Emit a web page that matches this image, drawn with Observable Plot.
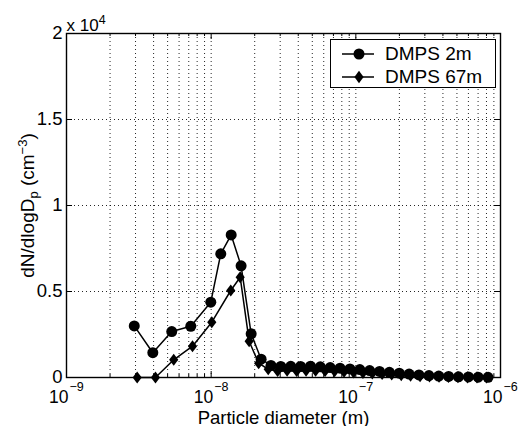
<!DOCTYPE html>
<html><head><meta charset="utf-8">
<script src="https://cdn.jsdelivr.net/npm/d3@7"></script>
<script src="https://cdn.jsdelivr.net/npm/@observablehq/plot@0.6"></script>
<style>
body{margin:0;background:#fff;font-family:"Liberation Sans",Arial,sans-serif;}
#wrap{position:relative;width:518px;height:426px;}
#legend{position:absolute;left:330px;top:39px;width:166px;height:49px;border:1px solid #000;background:#fff;box-sizing:border-box;}
#legend .sym{position:absolute;left:11px;width:34px;height:16px;}
#legend .lab{position:absolute;left:54px;font-size:19px;line-height:22px;color:#000;white-space:nowrap;}
</style></head><body><div id="wrap"><div id="legend"></div></div>
<script>
// ---- data (diameters in nm, concentrations in cm^-3) ----
const diam2m = [2.94, 3.95, 5.34, 7.23, 9.94, 11.65, 13.75, 16.1, 18.9, 22.15, 25.9, 30.3, 35.5, 41.5, 48.6, 56.8, 66.5, 77.8, 91.0, 106.5, 124.6, 145.8, 170.6, 199.6, 233.5, 273, 320, 374, 438, 512, 600, 701, 820];
const dn2m = [3000, 1440, 2670, 2980, 4380, 7190, 8290, 6490, 2540, 1065, 700, 640, 650, 640, 660, 620, 580, 540, 500, 460, 400, 350, 300, 250, 200, 150, 110, 80, 60, 40, 30, 20, 10];
const diam67m = [3.08, 4.12, 5.51, 7.43, 10.1, 13.66, 15.87, 18.3, 21.3, 24.8, 28.8, 33.5, 39, 45.3, 52.7, 61.3, 71.3, 82.9, 96.4, 112, 130, 152, 177, 206, 239, 278, 323, 376, 437, 508, 591, 688, 800];
const dn67m = [0, 0, 1030, 1820, 3215, 5058, 5830, 2110, 830, 480, 380, 400, 380, 400, 390, 380, 360, 330, 300, 270, 240, 200, 170, 140, 110, 80, 60, 40, 30, 20, 10, 5, 0];
const seriesNames = ["DMPS 2m", "DMPS 67m"];
const xTickExps = [-9, -8, -7, -6];
const yTicks = [0, 5000, 10000, 15000, 20000];
const yTickLabels = ["0", "0.5", "1", "1.5", "2"];
const xLabel = "Particle diameter (m)";
const yLabelParts = [["dN/dlogD", "base"], ["p", "sub"], [" (cm", "base"], ["\u22123", "sup"], [")", "base"]];
const yScaleParts = [["x 10", "base"], ["4", "sup"]];

// ---- build ----
const rows2m = diam2m.map((d, i) => ({d: d * 1e-9, n: dn2m[i]}));
const rows67m = diam67m.map((d, i) => ({d: d * 1e-9, n: dn67m[i]}));

const W = 518, H = 426, mL = 66, mR = 18, mT = 33, mB = 49;
const innerW = W - mL - mR, innerH = H - mT - mB;
const majors = xTickExps.map(e => Math.pow(10, e));
const minors = [];
for (let e = -9; e < -6; e++) for (let k = 2; k <= 9; k++) minors.push(k * Math.pow(10, e));
const gridX = minors.concat([1e-8, 1e-7]);
const dotted = {stroke: "#000", strokeWidth: 1, strokeDasharray: "1,3", strokeOpacity: 0.85};
const tallDiamond = {draw(ctx, size) {
  const r = Math.sqrt(size / Math.PI), w = r * 0.85, h = r * 1.12;
  ctx.moveTo(0, -h); ctx.lineTo(w, 0); ctx.lineTo(0, h); ctx.lineTo(-w, 0); ctx.closePath();
}};
const joinParts = p => p.map(q => q[0]).join("");
const yLabelText = joinParts(yLabelParts);
const yScaleText = joinParts(yScaleParts);

const plot = Plot.plot({
  width: W, height: H, marginLeft: mL, marginRight: mR, marginTop: mT, marginBottom: mB,
  style: {fontFamily: "Liberation Sans, Arial, sans-serif", background: "#fff", color: "#000", overflow: "visible"},
  x: {type: "log", domain: [1e-9, 1e-6], axis: null},
  y: {domain: [0, 20000], axis: null},
  marks: [
    Plot.ruleX(gridX, {x: d => d, ...dotted}),
    Plot.ruleY([5000, 10000, 15000], {y: d => d, ...dotted}),
    Plot.ruleX(majors, {x: d => d, insetTop: innerH - 6, stroke: "#000"}),
    Plot.ruleX(majors, {x: d => d, insetBottom: innerH - 6, stroke: "#000"}),
    Plot.ruleX(minors, {x: d => d, insetTop: innerH - 3, stroke: "#000"}),
    Plot.ruleX(minors, {x: d => d, insetBottom: innerH - 3, stroke: "#000"}),
    Plot.ruleY(yTicks, {y: d => d, insetRight: innerW - 6, stroke: "#000"}),
    Plot.ruleY(yTicks, {y: d => d, insetLeft: innerW - 6, stroke: "#000"}),
    Plot.frame({stroke: "#000", strokeWidth: 1.4}),
    Plot.text(yTicks, {y: d => d, frameAnchor: "left", dx: -4, textAnchor: "end", text: (d, i) => yTickLabels[i], fontSize: 18.5}),
    Plot.text(xTickExps, {x: e => Math.pow(10, e), frameAnchor: "bottom", text: () => "10", textAnchor: "end", lineAnchor: "bottom", dx: 2, dy: 25, fontSize: 17.5}),
    Plot.text(xTickExps, {x: e => Math.pow(10, e), frameAnchor: "bottom", text: e => "\u2212" + Math.abs(e), textAnchor: "start", lineAnchor: "bottom", dx: 3, dy: 13, fontSize: 12.5}),
    Plot.text([xLabel], {frameAnchor: "bottom", text: d => d, lineAnchor: "bottom", dy: 46, fontSize: 18.5}),
    Plot.text([yLabelText], {frameAnchor: "left", text: d => d, rotate: -90, lineAnchor: "bottom", dx: -33, fontSize: 19}),
    Plot.text([yScaleText], {frameAnchor: "top-left", text: d => d, textAnchor: "start", lineAnchor: "bottom", dy: -3, fontSize: 17}),
    Plot.line(rows2m, {x: "d", y: "n", stroke: "#000", strokeWidth: 1.5}),
    Plot.dot(rows2m, {x: "d", y: "n", r: 5.5, fill: "#000", symbol: "circle"}),
    Plot.line(rows67m, {x: "d", y: "n", stroke: "#000", strokeWidth: 1.5}),
    Plot.dot(rows67m, {x: "d", y: "n", r: 5.4, fill: "#000", symbol: tallDiamond})
  ]
});

function toTspans(parts, small) {
  let html = "";
  for (const [s, kind] of parts) {
    if (kind === "base") html += `<tspan>${s}</tspan>`;
    else html += `<tspan baseline-shift="${kind === "sub" ? "-4" : "7"}" font-size="${small}">${s}</tspan>`;
  }
  return html;
}
document.getElementById("wrap").prepend(plot);
plot.querySelectorAll("text").forEach(t => {
  if (t.textContent === yLabelText) {
    t.innerHTML = toTspans(yLabelParts, 13);
    t.setAttribute("text-anchor", "start");
    const len = t.getComputedTextLength();
    t.setAttribute("x", -len / 2);
  } else if (t.textContent === yScaleText) {
    t.innerHTML = toTspans(yScaleParts, 12.5);
  }
});

// ---- legend ----
const legend = document.getElementById("legend");
const symCircle = '<circle cx="17" cy="8" r="5.5" fill="#000"/>';
const symDiamond = '<path d="M17,1.8L21.6,8L17,14.2L12.4,8Z" fill="#000"/>';
seriesNames.forEach((name, i) => {
  const cy = i === 0 ? 14 : 37;
  const s = document.createElement("div");
  s.className = "sym"; s.style.top = (cy - 8) + "px";
  s.innerHTML = `<svg width="34" height="16"><line x1="0" y1="8" x2="32" y2="8" stroke="#000" stroke-width="1.5"/>${i === 0 ? symCircle : symDiamond}</svg>`;
  const l = document.createElement("div");
  l.className = "lab"; l.style.top = (cy - 11) + "px"; l.textContent = name;
  legend.appendChild(s); legend.appendChild(l);
});
</script>
</body></html>
